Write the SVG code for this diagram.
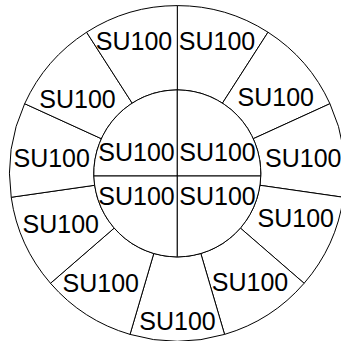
<svg xmlns="http://www.w3.org/2000/svg" width="341" height="341" viewBox="0 0 341 341">
<style>
.s{fill:#fff;stroke:#000;stroke-width:1}
.t{font-family:"Liberation Sans",Arial,sans-serif;font-size:25px;fill:#000;text-anchor:middle}
</style>
<rect width="341" height="341" fill="#fff"/>
<g id="outer-ring">
<g id="s0"><path class="s" d="M177.3,5.6 A167.8,167.8 0 0 1 268.01,32.23 L222.44,103.15 A83.5,83.5 0 0 0 177.3,89.9 Z"/><text class="t" x="217" y="49.6">SU100</text></g>
<g id="s1"><path class="s" d="M268.01,32.23 A167.8,167.8 0 0 1 329.93,103.7 L253.25,138.71 A83.5,83.5 0 0 0 222.44,103.15 Z"/><text class="t" x="275.8" y="106">SU100</text></g>
<g id="s2"><path class="s" d="M329.93,103.7 A167.8,167.8 0 0 1 343.39,197.28 L259.95,185.28 A83.5,83.5 0 0 0 253.25,138.71 Z"/><text class="t" x="303.3" y="166.5">SU100</text></g>
<g id="s3"><path class="s" d="M343.39,197.28 A167.8,167.8 0 0 1 304.11,283.29 L240.4,228.08 A83.5,83.5 0 0 0 259.95,185.28 Z"/><text class="t" x="295.8" y="226.5">SU100</text></g>
<g id="s4"><path class="s" d="M304.11,283.29 A167.8,167.8 0 0 1 224.57,334.4 L200.82,253.52 A83.5,83.5 0 0 0 240.4,228.08 Z"/><text class="t" x="250" y="290.5">SU100</text></g>
<g id="s5"><path class="s" d="M224.57,334.4 A167.8,167.8 0 0 1 130.03,334.4 L153.78,253.52 A83.5,83.5 0 0 0 200.82,253.52 Z"/><text class="t" x="177.5" y="330">SU100</text></g>
<g id="s6"><path class="s" d="M130.03,334.4 A167.8,167.8 0 0 1 50.49,283.29 L114.2,228.08 A83.5,83.5 0 0 0 153.78,253.52 Z"/><text class="t" x="100.8" y="291.5">SU100</text></g>
<g id="s7"><path class="s" d="M50.49,283.29 A167.8,167.8 0 0 1 11.21,197.28 L94.65,185.28 A83.5,83.5 0 0 0 114.2,228.08 Z"/><text class="t" x="60.8" y="233">SU100</text></g>
<g id="s8"><path class="s" d="M11.21,197.28 A167.8,167.8 0 0 1 24.67,103.7 L101.35,138.71 A83.5,83.5 0 0 0 94.65,185.28 Z"/><text class="t" x="51.7" y="166.5">SU100</text></g>
<g id="s9"><path class="s" d="M24.67,103.7 A167.8,167.8 0 0 1 86.59,32.23 L132.16,103.15 A83.5,83.5 0 0 0 101.35,138.71 Z"/><text class="t" x="77.5" y="107.5">SU100</text></g>
<g id="s10"><path class="s" d="M86.59,32.23 A167.8,167.8 0 0 1 177.3,5.6 L177.3,89.9 A83.5,83.5 0 0 0 132.16,103.15 Z"/><text class="t" x="134" y="49.6">SU100</text></g>
</g>
<g id="inner-core">
<g id="c-tl"><path class="s" d="M93.84,176 L177.3,176 L177.3,89.9 A83.5,83.5 0 0 0 93.84,176 Z"/><text class="t" x="136.5" y="161">SU100</text></g>
<g id="c-tr"><path class="s" d="M177.3,89.9 L177.3,176 L260.76,176 A83.5,83.5 0 0 0 177.3,89.9 Z"/><text class="t" x="217.5" y="161">SU100</text></g>
<g id="c-bl"><path class="s" d="M93.84,176 A83.5,83.5 0 0 0 177.3,256.9 L177.3,176 Z"/><text class="t" x="136.5" y="205">SU100</text></g>
<g id="c-br"><path class="s" d="M177.3,256.9 A83.5,83.5 0 0 0 260.76,176 L177.3,176 Z"/><text class="t" x="217.5" y="205">SU100</text></g>
</g>
</svg>
